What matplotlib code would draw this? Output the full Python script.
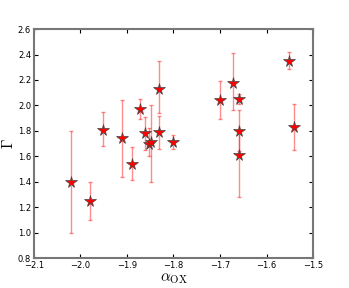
import matplotlib
matplotlib.use("Agg")
import matplotlib.pyplot as plt

plt.rcParams["mathtext.fontset"] = "cm"

# alpha_OX, Gamma, and the lower / upper ends of the error bars
alpha_ox = [-2.02, -1.98, -1.951, -1.910, -1.890, -1.871, -1.861, -1.852, -1.849,
            -1.830, -1.830, -1.800, -1.700, -1.671, -1.660, -1.660, -1.660,
            -1.551, -1.541]
gamma = [1.40, 1.25, 1.81, 1.74, 1.54, 1.97, 1.78, 1.70, 1.71,
         2.13, 1.79, 1.71, 2.04, 2.18, 2.05, 1.80, 1.61,
         2.35, 1.83]
gamma_lo = [1.00, 1.10, 1.68, 1.44, 1.41, 1.89, 1.65, 1.60, 1.40,
            1.94, 1.66, 1.66, 1.89, 1.96, 2.01, 1.64, 1.28,
            2.29, 1.65]
gamma_hi = [1.80, 1.40, 1.95, 2.04, 1.67, 2.05, 1.91, 1.82, 2.00,
            2.35, 1.92, 1.77, 2.19, 2.41, 2.09, 1.96, 1.80,
            2.42, 2.01]

err_lo = [g - lo for g, lo in zip(gamma, gamma_lo)]
err_hi = [hi - g for g, hi in zip(gamma, gamma_hi)]

fig = plt.figure(figsize=(3.49, 2.88), dpi=100)
ax = fig.add_axes([0.097, 0.104, 0.800, 0.795])

ax.errorbar(alpha_ox, gamma, yerr=[err_lo, err_hi], fmt="none",
            ecolor="red", alpha=0.45, elinewidth=1, capsize=1.5, capthick=1)
ax.plot(alpha_ox, gamma, linestyle="none", marker="*", markersize=8.5,
        markerfacecolor="red", markeredgecolor="#444444", markeredgewidth=0.5)

ax.set_xlim(-2.1, -1.5)
ax.set_ylim(0.8, 2.6)
ax.set_xticks([-2.1, -2.0, -1.9, -1.8, -1.7, -1.6, -1.5])
ax.set_yticks([0.8, 1.0, 1.2, 1.4, 1.6, 1.8, 2.0, 2.2, 2.4, 2.6])
ax.tick_params(direction="in", top=True, right=True, length=3, width=0.8,
               labelsize=6, pad=2)

for s in ax.spines.values():
    s.set_color("#777777")
    s.set_linewidth(1.5)

ax.set_xlabel(r"$\alpha_{\rm OX}$", fontsize=11, labelpad=1)
ax.set_ylabel(r"$\Gamma$", fontsize=11, labelpad=1)

fig.savefig("out.png", dpi=100)
